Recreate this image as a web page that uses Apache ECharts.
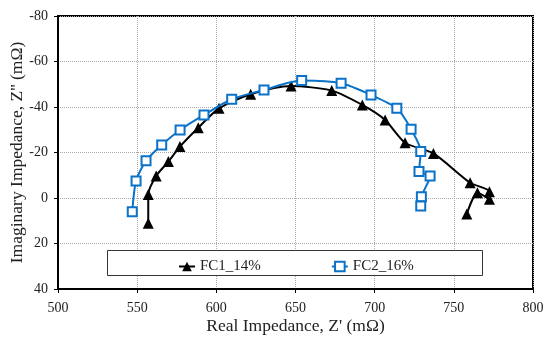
<!DOCTYPE html>
<html><head><meta charset="utf-8">
<script src="https://cdn.jsdelivr.net/npm/echarts@6/dist/echarts.min.js"></script>
<style>html,body{margin:0;padding:0;background:#fff}#c{width:550px;height:338px}</style>
</head><body><div id="c"></div>
<script>
const fc1Real = [557, 557, 562, 569.7, 577, 588.6, 601.7, 621.7, 647.2, 672.9, 692.2, 706.6, 719.2, 737.1, 760.3, 772.5, 772.5, 764.9, 758.2];
const fc1Imag = [11.1, -1.5, -9.7, -16.0, -22.6, -30.9, -39.4, -45.6, -49.2, -47.2, -40.9, -34.3, -24.3, -19.6, -6.7, -2.8, 0.6, -2.3, 7.0];
const fc2Real = [546.9, 549.3, 555.6, 565.5, 577.1, 592.2, 609.7, 630.1, 653.9, 678.8, 697.7, 714.0, 723.0, 729.1, 728.0, 735.0, 729.5, 729.1];
const fc2Imag = [6.0, -7.5, -16.4, -23.3, -29.9, -36.5, -43.4, -47.5, -51.6, -50.4, -45.3, -39.4, -30.2, -20.4, -11.6, -9.7, -0.6, 3.5];
const seriesNames = ['FC1_14%', 'FC2_16%'];
const xTitle = "Real Impedance, Z' (mΩ)";
const yTitle = "Imaginary Impedance, Z'' (mΩ)";

const pair = (xs, ys) => xs.map((x, i) => [x, ys[i]]);
const font = 'Liberation Serif';
const chart = echarts.init(document.getElementById('c'), null, {renderer: 'canvas'});
chart.setOption({
  animation: false,
  backgroundColor: '#fff',
  textStyle: {fontFamily: font},
  grid: {left: 58, right: 17, top: 16, bottom: 49, containLabel: false, outerBoundsMode: 'none',
         show: true, borderColor: '#000', borderWidth: 2, backgroundColor: 'transparent'},
  xAxis: {
    type: 'value', min: 500, max: 800, interval: 50,
    name: xTitle, nameLocation: 'middle', nameGap: 28, nameMoveOverlap: false,
    nameTextStyle: {fontFamily: font, fontSize: 17.5, color: '#222'},
    axisLine: {show: true, onZero: false, lineStyle: {color: '#000', width: 2}},
    axisTick: {show: true, length: 4, lineStyle: {color: '#000'}},
    axisLabel: {fontFamily: font, fontSize: 14, color: '#222', margin: 12},
    splitLine: {show: true, lineStyle: {color: '#aaa', type: 'dotted', width: 1}}
  },
  yAxis: {
    type: 'value', min: -80, max: 40, interval: 20, inverse: true,
    name: yTitle, nameLocation: 'middle', nameGap: 32, nameMoveOverlap: false,
    nameTextStyle: {fontFamily: font, fontSize: 17.5, color: '#222'},
    axisLine: {show: true, onZero: false, lineStyle: {color: '#000', width: 2}},
    axisTick: {show: true, length: 4, lineStyle: {color: '#000'}},
    axisLabel: {fontFamily: font, fontSize: 14, color: '#222', margin: 10},
    splitLine: {show: true, lineStyle: {color: '#aaa', type: 'dotted', width: 1}}
  },
  graphic: [{
    type: 'rect', left: 107, top: 250, shape: {width: 375, height: 25},
    style: {fill: '#fff', stroke: '#333', lineWidth: 1}, z: 50
  }],
  legend: {
    left: 173, top: 254, itemWidth: 16, itemHeight: 12, itemGap: 70, z: 60,
    textStyle: {fontFamily: font, fontSize: 15, color: '#222'},
    data: seriesNames
  },
  series: [{
    name: seriesNames[0], type: 'line', data: pair(fc1Real, fc1Imag),
    smooth: 0.25, symbol: 'triangle', symbolSize: 11,
    lineStyle: {color: '#000', width: 2}, itemStyle: {color: '#000'}, z: 3
  }, {
    name: seriesNames[1], type: 'line', data: pair(fc2Real, fc2Imag),
    smooth: 0.25, symbol: 'rect', symbolSize: 9,
    lineStyle: {color: '#0a72c8', width: 2},
    itemStyle: {color: '#fff', borderColor: '#0a72c8', borderWidth: 2}, z: 4
  }]
});
</script></body></html>
